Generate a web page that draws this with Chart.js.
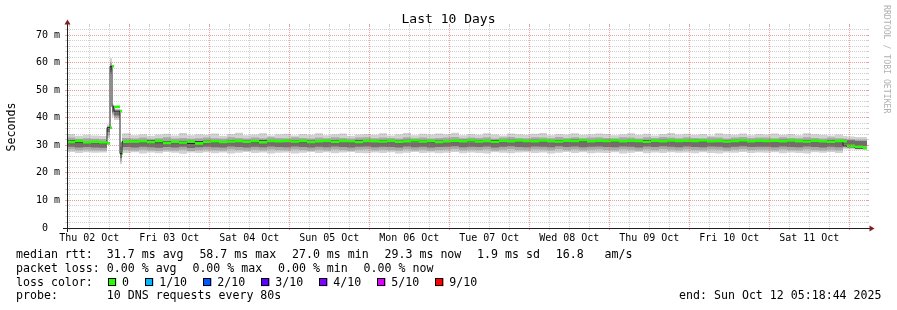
<!DOCTYPE html>
<html>
<head>
<meta charset="utf-8">
<script src="https://cdn.jsdelivr.net/npm/chart.js@4.4.1/dist/chart.umd.min.js"></script>
<style>
html,body{margin:0;padding:0;background:#fff;}
#wrap{width:897px;height:310px;position:relative;}
</style>
</head>
<body>
<div id="wrap"><canvas id="c" width="897" height="310"></canvas></div>
<script>
// ---------------- data ----------------
// hours since start of the 10-day window (end: Sun Oct 12 05:18:44 2025)
const hours = [
  0, 2.4, 4.8, 7.2, 9.6, 12.0,
  12.9, 13.5, 14.1, 15.9, 16.5, 16.8,
  19.2, 21.6, 24.0, 26.4, 28.8, 31.2, 33.6, 36.0, 38.4, 40.8,
  43.2, 45.6, 48.0, 50.4, 52.8, 55.2, 57.6, 60.0, 62.4, 64.8,
  67.2, 69.6, 72.0, 74.4, 76.8, 79.2, 81.6, 84.0, 86.4, 88.8,
  91.2, 93.6, 96.0, 98.4, 100.8, 103.2, 105.6, 108.0, 110.4, 112.8,
  115.2, 117.6, 120.0, 122.4, 124.8, 127.2, 129.6, 132.0, 134.4, 136.8,
  139.2, 141.6, 144.0, 146.4, 148.8, 151.2, 153.6, 156.0, 158.4, 160.8,
  163.2, 165.6, 168.0, 170.4, 172.8, 175.2, 177.6, 180.0, 182.4, 184.8,
  187.2, 189.6, 192.0, 194.4, 196.8, 199.2, 201.6, 204.0, 206.4, 208.8,
  211.2, 213.6, 216.0, 218.4, 220.8, 223.2, 225.6, 228.0, 230.4, 232.8,
  234.0, 236.4, 238.8, 240.0
];
// median rtt (ms)
const medianRtt = [
  31.2, 31.6, 31.1, 31.3, 31.0, 30.7,
  36.4, 58.7, 44.0, 42.4, 27.0, 31.3,
  31.4, 31.5, 31.2, 31.6, 30.9, 31.3, 31.0, 31.4, 30.7, 31.3,
  31.5, 31.2, 31.4, 31.6, 31.3, 31.5, 31.1, 31.6, 31.5, 31.7,
  31.4, 31.6, 31.2, 31.5, 31.7, 31.3, 31.6, 31.5, 31.2, 31.6,
  31.6, 31.4, 31.7, 31.3, 31.5, 31.8, 31.4, 31.6, 31.2, 31.5,
  31.7, 31.5, 31.8, 31.4, 31.6, 31.3, 31.7, 31.5, 31.8, 31.6,
  31.5, 31.8, 31.6, 31.4, 31.7, 31.6, 31.9, 31.5, 31.7, 31.6,
  31.8, 31.5, 31.7, 31.6, 31.3, 31.7, 31.5, 31.8, 31.6, 31.7,
  31.6, 31.8, 31.5, 31.7, 31.4, 31.6, 31.8, 31.5, 31.7, 31.6,
  31.7, 31.5, 31.8, 31.6, 31.4, 31.7, 31.5, 31.3, 31.6, 31.5,
  29.8, 29.5, 29.0, 29.0
];
// smoke: spread of the 10 pings (ms)
const smokeMax = [
  33.6, 34.1, 33.5, 33.8, 33.6, 33.4,
  37.6, 61.6, 44.9, 43.4, 31.0, 34.2,
  34.4, 33.7, 34.0, 33.5, 33.9, 34.2, 33.6, 34.5, 33.7, 34.0,
  33.8, 34.3, 33.5, 34.1, 34.6, 33.7, 33.9, 34.4, 33.6, 34.0,
  34.2, 33.6, 34.1, 33.8, 34.4, 33.7, 34.0, 34.3, 33.5, 33.9,
  34.1, 33.8, 34.4, 33.6, 34.0, 34.5, 33.7, 34.2, 33.9, 34.3,
  34.0, 34.6, 33.7, 34.1, 33.8, 34.4, 33.9, 33.6, 34.3, 34.0,
  33.8, 34.2, 34.5, 33.7, 34.1, 33.9, 34.4, 33.8, 34.0, 34.3,
  34.1, 33.7, 34.0, 34.4, 33.8, 34.2, 33.6, 34.1, 34.5, 33.9,
  34.2, 33.8, 34.1, 33.6, 34.4, 34.0, 33.8, 34.3, 33.7, 34.1,
  33.9, 34.3, 33.8, 34.1, 33.7, 34.4, 34.0, 33.8, 33.6, 33.9,
  33.4, 33.2, 33.0, 33.0
];
const smokeHigh = [
  32.5, 32.8, 32.4, 32.6, 32.4, 32.2,
  36.9, 60.0, 44.5, 43.0, 29.5, 32.7,
  32.7, 32.5, 32.8, 32.4, 32.6, 32.9, 32.5, 32.7, 32.4, 32.6,
  32.8, 32.6, 32.5, 32.9, 32.7, 32.5, 32.8, 32.6, 32.9, 32.7,
  32.6, 32.9, 32.7, 32.5, 32.8, 32.6, 32.9, 32.7, 32.5, 32.8,
  32.9, 32.6, 32.8, 32.7, 32.5, 32.9, 32.6, 32.8, 32.5, 32.7,
  32.8, 33.0, 32.6, 32.8, 32.7, 32.9, 32.5, 32.8, 33.0, 32.7,
  32.6, 32.9, 32.8, 32.6, 33.0, 32.7, 32.9, 32.6, 32.8, 32.9,
  32.7, 32.6, 32.9, 32.8, 32.5, 32.9, 32.7, 33.0, 32.8, 32.6,
  32.9, 32.7, 32.6, 32.9, 32.8, 32.5, 32.8, 33.0, 32.7, 32.8,
  32.8, 32.6, 32.9, 32.7, 32.6, 32.9, 32.7, 32.5, 32.8, 32.6,
  32.4, 32.2, 32.0, 32.0
];
const smokeCoreHigh = [
  31.1, 31.4, 31.0, 31.2, 30.9, 30.6,
  36.2, 58.6, 43.8, 42.2, 27.0, 31.2,
  31.0, 31.1, 30.9, 31.2, 30.7, 31.0, 30.8, 31.1, 30.6, 31.0,
  31.2, 30.9, 31.1, 31.3, 31.0, 31.2, 30.8, 31.3, 31.2, 31.4,
  31.1, 31.3, 30.9, 31.2, 31.4, 31.0, 31.3, 31.2, 30.9, 31.3,
  31.3, 31.1, 31.4, 31.0, 31.2, 31.5, 31.1, 31.3, 30.9, 31.2,
  31.4, 31.2, 31.5, 31.1, 31.3, 31.0, 31.4, 31.2, 31.5, 31.3,
  31.2, 31.5, 31.3, 31.1, 31.4, 31.3, 31.6, 31.2, 31.4, 31.3,
  31.5, 31.2, 31.4, 31.3, 31.0, 31.4, 31.2, 31.5, 31.3, 31.4,
  31.3, 31.5, 31.2, 31.4, 31.1, 31.3, 31.5, 31.2, 31.4, 31.3,
  31.4, 31.2, 31.5, 31.3, 31.1, 31.4, 31.2, 31.0, 31.3, 31.2,
  32.0, 31.8, 31.6, 31.6
];
const smokeCoreLow = [
  29.3, 29.5, 29.2, 29.4, 29.2, 29.1,
  34.8, 57.4, 42.0, 40.8, 25.4, 29.4,
  29.4, 29.2, 29.5, 29.3, 29.1, 29.4, 29.2, 29.5, 29.0, 29.3,
  29.5, 29.3, 29.2, 29.6, 29.4, 29.2, 29.5, 29.3, 29.6, 29.4,
  29.3, 29.6, 29.4, 29.2, 29.5, 29.3, 29.6, 29.4, 29.2, 29.5,
  29.6, 29.3, 29.5, 29.4, 29.2, 29.6, 29.3, 29.5, 29.2, 29.4,
  29.5, 29.7, 29.3, 29.5, 29.4, 29.6, 29.2, 29.5, 29.7, 29.4,
  29.3, 29.6, 29.5, 29.3, 29.7, 29.4, 29.6, 29.3, 29.5, 29.6,
  29.4, 29.3, 29.6, 29.5, 29.2, 29.6, 29.4, 29.7, 29.5, 29.3,
  29.6, 29.4, 29.3, 29.6, 29.5, 29.2, 29.5, 29.7, 29.4, 29.5,
  29.5, 29.3, 29.6, 29.4, 29.3, 29.6, 29.4, 29.2, 29.5, 29.3,
  30.2, 30.0, 29.8, 29.8
];
const smokeLow = [
  28.3, 28.5, 28.2, 28.4, 28.2, 28.1,
  33.6, 56.6, 41.2, 40.0, 24.2, 28.4,
  28.3, 28.1, 28.4, 28.2, 28.0, 28.3, 28.1, 28.4, 27.9, 28.2,
  28.4, 28.2, 28.1, 28.5, 28.3, 28.1, 28.4, 28.2, 28.5, 28.3,
  28.2, 28.5, 28.3, 28.1, 28.4, 28.2, 28.5, 28.3, 28.1, 28.4,
  28.5, 28.2, 28.4, 28.3, 28.1, 28.5, 28.2, 28.4, 28.1, 28.3,
  28.4, 28.6, 28.2, 28.4, 28.3, 28.5, 28.1, 28.4, 28.6, 28.3,
  28.2, 28.5, 28.4, 28.2, 28.6, 28.3, 28.5, 28.2, 28.4, 28.5,
  28.3, 28.2, 28.5, 28.4, 28.1, 28.5, 28.3, 28.6, 28.4, 28.2,
  28.5, 28.3, 28.2, 28.5, 28.4, 28.1, 28.4, 28.6, 28.3, 28.4,
  28.4, 28.2, 28.5, 28.3, 28.2, 28.5, 28.3, 28.1, 28.4, 28.2,
  29.2, 29.0, 28.8, 28.8
];
const smokeMin = [
  27.4, 27.6, 27.2, 27.5, 27.3, 27.4,
  32.6, 55.8, 40.4, 39.2, 23.2, 27.5,
  27.2, 27.5, 27.0, 27.4, 27.1, 27.6, 27.3, 26.9, 27.4, 27.2,
  27.5, 27.1, 27.4, 27.0, 27.3, 27.6, 27.2, 27.4, 27.0, 27.3,
  27.4, 27.0, 27.3, 27.6, 27.2, 27.5, 27.1, 27.4, 27.6, 27.2,
  27.1, 27.4, 27.2, 27.5, 27.0, 27.3, 27.6, 27.2, 27.4, 27.1,
  27.3, 27.6, 27.1, 27.4, 27.2, 27.0, 27.5, 27.3, 27.1, 27.4,
  27.5, 27.2, 27.4, 27.0, 27.3, 27.6, 27.2, 27.5, 27.1, 27.3,
  27.2, 27.5, 27.0, 27.3, 27.6, 27.1, 27.4, 27.2, 27.5, 27.3,
  27.4, 27.1, 27.5, 27.2, 27.0, 27.4, 27.3, 27.6, 27.2, 27.4,
  27.3, 27.5, 27.1, 27.4, 27.2, 27.0, 27.5, 27.3, 27.6, 27.2,
  28.6, 28.5, 28.4, 28.4
];

// tick labels / texts
const dayLabels = ['Thu 02 Oct','Fri 03 Oct','Sat 04 Oct','Sun 05 Oct','Mon 06 Oct',
                   'Tue 07 Oct','Wed 08 Oct','Thu 09 Oct','Fri 10 Oct','Sat 11 Oct'];
const yMajorValues = [0, 10, 20, 30, 40, 50, 60, 70];
const yMajorLabels = ['0  ', '10 m', '20 m', '30 m', '40 m', '50 m', '60 m', '70 m'];
const yMax = 73.3;
const endUtc = [2025, 9, 12, 5, 18, 44];
const titleText = 'Last 10 Days';
const yTitle = 'Seconds';
const watermark = 'RRDTOOL / TOBI OETIKER';
const rttLabel = 'median rtt:';
const rttStats = ['31.7 ms avg', '58.7 ms max', '27.0 ms min', '29.3 ms now', '1.9 ms sd', '16.8   am/s'];
const lossLabel = 'packet loss:';
const lossStats = ['0.00 % avg', '0.00 % max', '0.00 % min', '0.00 % now'];
const colorLabel = 'loss color:';
const lossLevels = ['0', '1/10', '2/10', '3/10', '4/10', '5/10', '9/10'];
const lossColors = ['#26ff00', '#00b8ff', '#0059ff', '#5e00ff', '#7e00ff', '#dd00ff', '#ff0000'];
const probeLabel = 'probe:';
const probeText = '10 DNS requests every 80s';
const endText = 'end: Sun Oct 12 05:18:44 2025';

// ---------------- derived tables ----------------
const xTickDefs = (() => {
  const endMs = Date.UTC(...endUtc);
  const startMs = endMs - 240 * 3600000;
  const step = 6 * 3600000;
  const defs = [];
  let day = 0;
  for (let t = Math.ceil(startMs / step) * step; t < endMs; t += step) {
    const hod = new Date(t).getUTCHours();
    defs.push({ h: (t - startMs) / 3600000, major: hod === 0, label: hod === 12 ? dayLabels[day++] : '' });
  }
  return defs;
})();
const yTickValues = [];
for (let v = 0; v < yMax; v += 2) yTickValues.push(v);

const pts = arr => hours.map((h, i) => ({ x: h, y: arr[i] }));
const greenSeg = [];
for (let i = 0; i < hours.length - 1; i++) {
  greenSeg.push({ x: hours[i], y: medianRtt[i] }, { x: hours[i + 1], y: medianRtt[i] }, { x: hours[i + 1], y: null });
}

const GRID = 'rgba(143,143,143,0.42)';
const MGRID = 'rgba(222,79,79,0.55)';
const MONO = '"DejaVu Sans Mono", monospace';

const band = (data, color, fillTo, order) => ({
  data, stepped: 'after', borderWidth: 0, borderColor: 'rgba(0,0,0,0)',
  backgroundColor: color, fill: fillTo, pointRadius: 0, order
});

const textPlugin = {
  id: 'rrdText',
  beforeDraw(chart) {
    const c = chart.ctx;
    c.save(); c.fillStyle = '#ffffff'; c.fillRect(0, 0, chart.width, chart.height); c.restore();
  },
  afterDraw(chart) {
    const c = chart.ctx, a = chart.chartArea;
    c.save();
    // axis extensions
    c.strokeStyle = '#1f1f1f'; c.lineWidth = 1;
    c.beginPath();
    c.moveTo(a.left - 4, a.bottom + 0.5); c.lineTo(a.right + 3, a.bottom + 0.5);
    c.moveTo(a.left + 0.5, a.bottom + 4); c.lineTo(a.left + 0.5, a.top - 3);
    c.stroke();
    // arrows
    c.fillStyle = '#801f1f';
    c.beginPath();
    c.moveTo(a.right + 2.5, a.bottom - 2.5); c.lineTo(a.right + 2.5, a.bottom + 3.5); c.lineTo(a.right + 7.5, a.bottom + 0.5);
    c.closePath(); c.fill();
    c.beginPath();
    c.moveTo(a.left - 2.5, a.top - 1.5); c.lineTo(a.left + 3.5, a.top - 1.5); c.lineTo(a.left + 0.5, a.top - 6.5);
    c.closePath(); c.fill();

    c.fillStyle = '#000';
    // title
    c.font = '13px ' + MONO; c.textAlign = 'center'; c.textBaseline = 'alphabetic';
    c.fillText(titleText, 448.5, 23);
    // y axis title
    c.save();
    c.translate(15, (a.top + a.bottom) / 2);
    c.rotate(-Math.PI / 2);
    c.font = '11.6px ' + MONO; c.textAlign = 'center'; c.textBaseline = 'alphabetic';
    c.fillText(yTitle, 0, 0);
    c.restore();
    // watermark
    c.save();
    c.translate(884, 5);
    c.rotate(Math.PI / 2);
    c.font = '8.2px ' + MONO; c.textAlign = 'left'; c.textBaseline = 'alphabetic';
    c.fillStyle = '#b0b0b0';
    c.fillText(watermark, 0, 0);
    c.restore();

    // legend
    c.font = '11.6px ' + MONO; c.textAlign = 'left'; c.textBaseline = 'alphabetic';
    const x0 = 16, x1 = 106.8, gap = 15.8;
    const rows = [258.3, 271.8, 285.6, 299.2];
    c.fillText(rttLabel, x0, rows[0]);
    let x = x1;
    rttStats.forEach(s => { c.fillText(s, x, rows[0]); x += c.measureText(s).width + gap; });
    c.fillText(lossLabel, x0, rows[1]);
    x = x1;
    lossStats.forEach(s => { c.fillText(s, x, rows[1]); x += c.measureText(s).width + gap; });
    c.fillText(colorLabel, x0, rows[2]);
    x = 108.3;
    lossLevels.forEach((s, i) => {
      c.fillStyle = lossColors[i];
      c.fillRect(x, rows[2] - 7.5, 8, 8);
      c.strokeStyle = '#000'; c.lineWidth = 1;
      c.strokeRect(Math.round(x) + 0.5, Math.round(rows[2] - 7.5) + 0.5, 7, 7);
      c.fillStyle = '#000';
      const tx = x + 13.8;
      c.fillText(s, tx, rows[2]);
      x = tx + c.measureText(s).width + 16.3;
    });
    c.fillText(probeLabel, x0, rows[3]);
    c.fillText(probeText, x1, rows[3]);
    c.textAlign = 'right';
    c.fillText(endText, 881.5, rows[3]);
    c.restore();
  }
};

new Chart(document.getElementById('c'), {
  type: 'line',
  data: {
    datasets: [
      { label: 'loss 0', data: greenSeg, borderColor: lossColors[0], borderWidth: 2.6, borderCapStyle: 'butt',
        pointRadius: 0, spanGaps: false, fill: false, order: 0 },
      { label: 'median', data: pts(medianRtt), stepped: 'after', borderColor: '#1e1e1e', borderWidth: 1,
        pointRadius: 0, fill: false, order: 1 },
      band(pts(smokeCoreHigh), '#6e6e6e', 3, 2),
      band(pts(smokeCoreLow), '#6e6e6e', false, 2),
      band(pts(smokeHigh), '#a9a9a9', 5, 3),
      band(pts(smokeLow), '#a9a9a9', false, 3),
      band(pts(smokeMax), '#d2d2d2', 7, 4),
      band(pts(smokeMin), '#d2d2d2', false, 4)
    ]
  },
  options: {
    responsive: false,
    animation: false,
    devicePixelRatio: 1,
    events: [],
    layout: { padding: { top: 24, right: 28, bottom: 0, left: 0 } },
    plugins: { legend: { display: false }, tooltip: { enabled: false }, title: { display: false } },
    scales: {
      x: {
        type: 'linear', position: 'bottom', min: 0, max: 240,
        afterFit(s) { s.height = 82; },
        afterBuildTicks(s) { s.ticks = xTickDefs.map(d => ({ value: d.h })); },
        ticks: { autoSkip: false, maxRotation: 0, minRotation: 0, padding: 2, color: '#000',
                 font: { family: MONO, size: 10 },
                 callback: (v, i) => (xTickDefs[i] ? xTickDefs[i].label : '') },
        grid: { z: 1, lineWidth: 1, tickLength: 2,
                color: ctx => (xTickDefs[ctx.index] && xTickDefs[ctx.index].major ? MGRID : GRID),
                tickColor: ctx => (xTickDefs[ctx.index] && xTickDefs[ctx.index].major ? MGRID : GRID) },
        border: { display: true, color: '#1f1f1f', width: 1, dash: [1, 1], z: 2 }
      },
      x2: {
        type: 'linear', position: 'top', min: 0, max: 240,
        afterFit(s) { s.height = 2; },
        afterBuildTicks(s) { s.ticks = xTickDefs.map(d => ({ value: d.h })); },
        ticks: { display: false },
        grid: { z: 1, drawOnChartArea: false, tickLength: 2,
                tickColor: ctx => (xTickDefs[ctx.index] && xTickDefs[ctx.index].major ? MGRID : GRID) },
        border: { display: false }
      },
      y: {
        type: 'linear', position: 'left', min: 0, max: yMax,
        afterFit(s) { s.width = 67; },
        afterBuildTicks(s) { s.ticks = yTickValues.map(v => ({ value: v })); },
        ticks: { autoSkip: false, padding: 5, color: '#000', font: { family: MONO, size: 10 },
                 callback: v => { const k = yMajorValues.indexOf(v); return k >= 0 ? yMajorLabels[k] : ''; } },
        grid: { z: 1, lineWidth: 1, tickLength: 2,
                color: ctx => (ctx.tick && ctx.tick.value % 10 === 0 ? MGRID : GRID),
                tickColor: ctx => (ctx.tick && ctx.tick.value % 10 === 0 ? MGRID : GRID) },
        border: { display: true, color: '#1f1f1f', width: 1, dash: [1, 1], z: 2 }
      },
      y2: {
        type: 'linear', position: 'right', min: 0, max: yMax,
        afterFit(s) { s.width = 2; },
        afterBuildTicks(s) { s.ticks = yTickValues.map(v => ({ value: v })); },
        ticks: { display: false },
        grid: { z: 1, drawOnChartArea: false, tickLength: 2,
                tickColor: ctx => (ctx.tick && ctx.tick.value % 10 === 0 ? MGRID : GRID) },
        border: { display: false }
      }
    }
  },
  plugins: [textPlugin]
});
</script>
</body>
</html>
